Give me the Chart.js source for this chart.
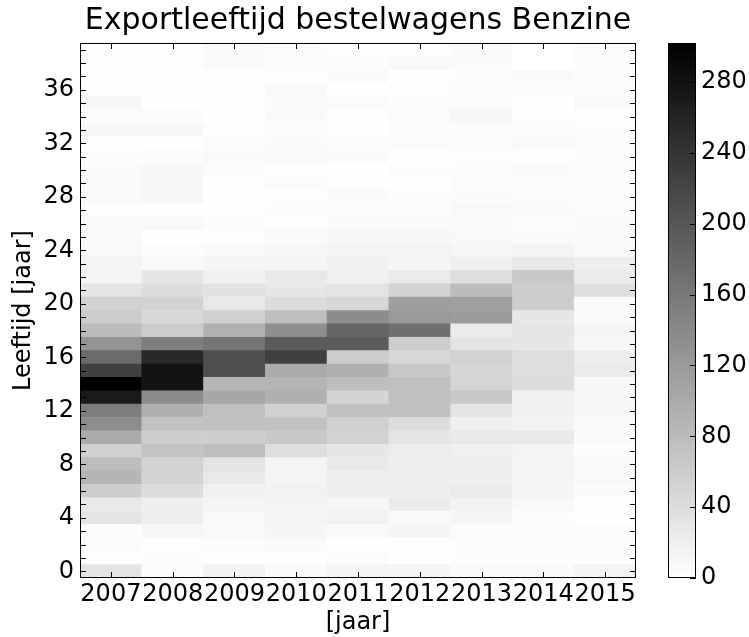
<!DOCTYPE html>
<html>
<head>
<meta charset="utf-8">
<script src="https://cdn.jsdelivr.net/npm/chart.js@4.4.1/dist/chart.umd.min.js"></script>
<style>
html,body{margin:0;padding:0;background:#ffffff;}
#wrap{width:749px;height:637px;}
</style>
</head>
<body>
<div id="wrap"><canvas id="c" width="749" height="637"></canvas></div>
<script>
// ---- data ----
const years = ['2007','2008','2009','2010','2011','2012','2013','2014','2015'];
const ages = [0,1,2,3,4,5,6,7,8,9,10,11,12,13,14,15,16,17,18,19,20,21,22,23,24,25,26,27,28,29,30,31,32,33,34,35,36,37,38,39];
const yTickValues = [0,4,8,12,16,20,24,28,32,36];
const colorbarTicks = [0,40,80,120,160,200,240,280];
const colorMin = 0;
const colorMax = 302;

// counts per age (index = age 0..39) for each year
const v2007 = [32,2,6,4,32,27,59,88,79,56,100,136,153,271,302,226,176,127,80,61,55,32,14,14,8,7,8,1,7,7,6,4,1,9,5,9,1,1,1,1];
const v2008 = [4,4,2,11,20,20,41,51,53,71,59,74,94,135,279,279,254,153,62,47,52,40,31,8,4,1,8,1,11,11,9,5,1,9,5,1,1,1,1,1];
const v2009 = [15,2,4,8,8,13,18,27,32,78,59,76,75,104,87,208,208,165,92,56,27,34,18,13,6,2,5,1,1,1,5,7,5,2,1,1,1,1,6,6];
const v2010 = [6,1,7,12,13,14,16,14,14,39,65,75,56,94,88,99,226,194,134,78,42,28,27,12,9,7,2,4,2,6,2,7,6,5,7,6,7,2,4,4];
const v2011 = [13,5,1,7,16,11,20,20,27,29,53,56,75,51,78,94,59,194,182,135,47,33,18,18,14,9,6,5,6,2,1,6,5,1,2,6,1,6,4,2];
const v2012 = [12,1,1,12,8,25,20,20,20,22,31,40,75,76,76,65,47,59,169,121,115,51,25,12,14,11,6,5,4,1,4,1,5,4,5,4,2,1,8,2];
const v2013 = [6,4,4,5,12,15,25,20,20,19,27,19,32,65,51,48,53,32,24,118,115,79,39,20,11,8,8,8,6,5,4,2,4,4,11,5,4,4,6,6];
const v2014 = [6,4,4,5,4,8,13,13,13,14,26,15,18,18,40,39,39,28,32,28,59,59,65,27,14,6,4,7,5,4,6,2,7,5,2,1,5,7,0,0];
const v2015 = [14,4,4,4,1,2,6,8,8,4,6,8,11,11,9,25,21,11,13,7,6,39,25,21,8,7,6,5,5,5,4,5,5,4,1,7,4,4,4,4];

const columns = [v2007,v2008,v2009,v2010,v2011,v2012,v2013,v2014,v2015];

// ---- colour map (gray_r) ----
function grayFor(v){
  let t = (v - colorMin) / (colorMax - colorMin);
  t = Math.max(0, Math.min(1, t));
  const g = Math.round(255 * (1 - t));
  return 'rgb(' + g + ',' + g + ',' + g + ')';
}

// one floating-bar dataset per age row
const datasets = ages.map(function(age){
  return {
    label: 'age ' + age,
    data: years.map(function(){ return [age - 0.5, age + 0.5]; }),
    backgroundColor: columns.map(function(col){ return grayFor(col[age]); }),
    borderWidth: 0,
    barPercentage: 1.0,
    categoryPercentage: 1.0
  };
});

Chart.defaults.font.family = "'DejaVu Sans', sans-serif";
Chart.defaults.color = '#000000';

const TICK = 6;
const decor = {
  id: 'decor',
  afterDraw(chart){
    const ctx = chart.ctx;
    const a = chart.chartArea;
    const xs = chart.scales.x, ys = chart.scales.y, cb = chart.scales.cb;
    ctx.save();
    ctx.strokeStyle = '#000000';
    ctx.lineWidth = 1;
    // frame
    ctx.strokeRect(Math.round(a.left) + 0.5, Math.round(a.top) + 0.5,
                   Math.round(a.right - a.left) - 1, Math.round(a.bottom - a.top) - 1);
    ctx.beginPath();
    ages.forEach(function(age){
      const y = Math.round(ys.getPixelForValue(age)) + 0.5;
      ctx.moveTo(a.left, y); ctx.lineTo(a.left + TICK, y);
      ctx.moveTo(a.right, y); ctx.lineTo(a.right - TICK, y);
    });
    years.forEach(function(yr, i){
      const x = Math.round(xs.getPixelForValue(i)) + 0.5;
      ctx.moveTo(x, a.top); ctx.lineTo(x, a.top + TICK);
      ctx.moveTo(x, a.bottom); ctx.lineTo(x, a.bottom - TICK);
    });
    ctx.stroke();

    // colour bar
    const bx0 = cb.left + 32, bx1 = cb.left + 60;
    const by0 = cb.getPixelForValue(colorMax), by1 = cb.getPixelForValue(colorMin);
    const grad = ctx.createLinearGradient(0, by1, 0, by0);
    grad.addColorStop(0, grayFor(colorMin));
    grad.addColorStop(1, grayFor(colorMax));
    ctx.fillStyle = grad;
    ctx.fillRect(bx0, by0, bx1 - bx0, by1 - by0);
    ctx.strokeRect(Math.round(bx0) + 0.5, Math.round(by0) + 0.5, Math.round(bx1 - bx0) - 1, Math.round(by1 - by0) - 1);
    ctx.beginPath();
    colorbarTicks.forEach(function(v){
      const y = Math.round(cb.getPixelForValue(v)) + 0.5;
      ctx.moveTo(bx1, y); ctx.lineTo(bx1 - TICK, y);
    });
    ctx.stroke();
    ctx.restore();
  }
};

new Chart(document.getElementById('c'), {
  type: 'bar',
  data: { labels: years, datasets: datasets },
  plugins: [decor],
  options: {
    responsive: false,
    animation: false,
    layout: { padding: 0 },
    plugins: {
      legend: { display: false },
      tooltip: { enabled: false },
      title: {
        display: true,
        text: 'Exportleeftijd bestelwagens Benzine',
        fullSize: false,
        color: '#000000',
        font: { size: 30, weight: 'normal' },
        padding: { top: 3, bottom: 4 }
      }
    },
    scales: {
      x: {
        stacked: true,
        grid: { display: false, drawTicks: false },
        border: { display: false },
        ticks: { autoSkip: false, maxRotation: 0, minRotation: 0, font: { size: 24 }, color: '#000000', padding: 2 },
        title: { display: true, text: '[jaar]', font: { size: 24 }, color: '#000000', padding: { top: 0, bottom: 0 } },
        afterFit: function(s){ s.height = 59; }
      },
      y: {
        min: -0.5,
        max: 39.5,
        stacked: false,
        grid: { display: false, drawTicks: false },
        border: { display: false },
        afterBuildTicks: function(s){ s.ticks = yTickValues.map(function(v){ return { value: v }; }); },
        ticks: { font: { size: 24 }, color: '#000000', padding: 6 },
        title: { display: true, text: 'Leeftijd [jaar]', font: { size: 24 }, color: '#000000', padding: { top: 9, bottom: 0 } },
        afterFit: function(s){ s.width = 80; }
      },
      cb: {
        type: 'linear',
        position: 'right',
        min: colorMin,
        max: colorMax,
        grid: { display: true, drawOnChartArea: false, drawTicks: true, tickLength: 60, color: 'rgba(0,0,0,0)' },
        border: { display: false },
        afterBuildTicks: function(s){ s.ticks = colorbarTicks.map(function(v){ return { value: v }; }); },
        ticks: { font: { size: 24 }, color: '#000000', padding: 5 },
        afterFit: function(s){ s.width = 113; }
      }
    }
  }
});
</script>
</body>
</html>
